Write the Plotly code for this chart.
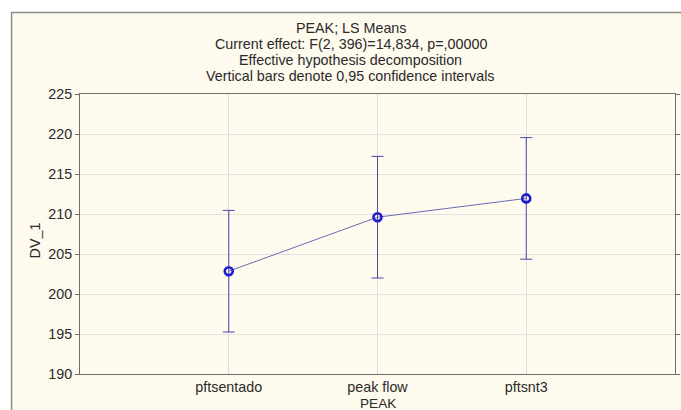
import plotly.graph_objects as go

categories = ["pftsentado", "peak flow", "pftsnt3"]
means = [202.85, 209.6, 211.95]
ci_half = [7.6, 7.6, 7.6]
y_ticks = [190, 195, 200, 205, 210, 215, 220, 225]
title_lines = [
    "PEAK; LS Means",
    "Current effect: F(2, 396)=14,834, p=,00000",
    "Effective hypothesis decomposition",
    "Vertical bars denote 0,95 confidence intervals",
]

W, H = 681, 410
L, R, T, B = 80, 1, 94, 36
pw, ph = W - L - R, H - T - B

def px_x(p):
    return (p - L) / pw

def px_y(p):
    return (H - B - p) / ph

FONT = "Liberation Sans, Arial, sans-serif"
FS = 14.3
TXT = "#2a2a2a"
xpos = [1, 2, 3]

fig = go.Figure()
fig.add_trace(go.Scatter(
    x=xpos, y=means, mode="lines+markers",
    line=dict(color="#6A6AB8", width=1),
    marker=dict(symbol="circle-open", size=8, color="#1E1ECC", line=dict(width=2.6, color="#1E1ECC")),
    error_y=dict(type="data", array=ci_half, visible=True, color="#4A4AA6", thickness=1, width=6),
    showlegend=False,
))

shapes = [dict(type="rect", xref="paper", yref="paper", layer="below",
               x0=px_x(11), x1=px_x(720), y0=px_y(12.5), y1=px_y(460),
               fillcolor="#FEFAEE", line=dict(color="#8C8C84", width=1.5))]

annotations = []
for i, t in enumerate(title_lines):
    annotations.append(dict(text=t, xref="paper", yref="paper", x=px_x(353), y=px_y(28.3 + i * 15.8),
                            xanchor="center", yanchor="middle", showarrow=False,
                            font=dict(family=FONT, size=FS, color=TXT)))
annotations.append(dict(text="DV_1", xref="paper", yref="paper", x=px_x(35), y=px_y(240), textangle=-90,
                        xanchor="center", yanchor="middle", showarrow=False,
                        font=dict(family=FONT, size=FS, color=TXT)))
annotations.append(dict(text="PEAK", xref="paper", yref="paper", x=px_x(380), y=px_y(403),
                        xanchor="center", yanchor="middle", showarrow=False,
                        font=dict(family=FONT, size=13.6, color=TXT)))

fig.update_layout(
    width=W, height=H, margin=dict(l=L, r=R, t=T, b=B, pad=0),
    paper_bgcolor="white", plot_bgcolor="white",
    shapes=shapes, annotations=annotations,
    font=dict(family=FONT, size=FS, color=TXT),
)
fig.update_xaxes(range=[0, 4], tickvals=xpos, ticktext=categories,
                 showline=True, linecolor="#6E6E6E", linewidth=1, mirror=True,
                 ticks="", ticklen=0,
                 showgrid=True, gridcolor="#DCDCE6", gridwidth=1, zeroline=False,
                 tickfont=dict(family=FONT, size=FS, color=TXT))
fig.update_yaxes(range=[190, 225], tickvals=y_ticks,
                 showline=True, linecolor="#6E6E6E", linewidth=1, mirror="ticks",
                 ticks="outside", ticklen=4, tickcolor="#6E6E6E",
                 showgrid=True, gridcolor="#E2E2E2", gridwidth=1, zeroline=False,
                 tickfont=dict(family=FONT, size=FS, color=TXT))

fig.write_html("out.html")
